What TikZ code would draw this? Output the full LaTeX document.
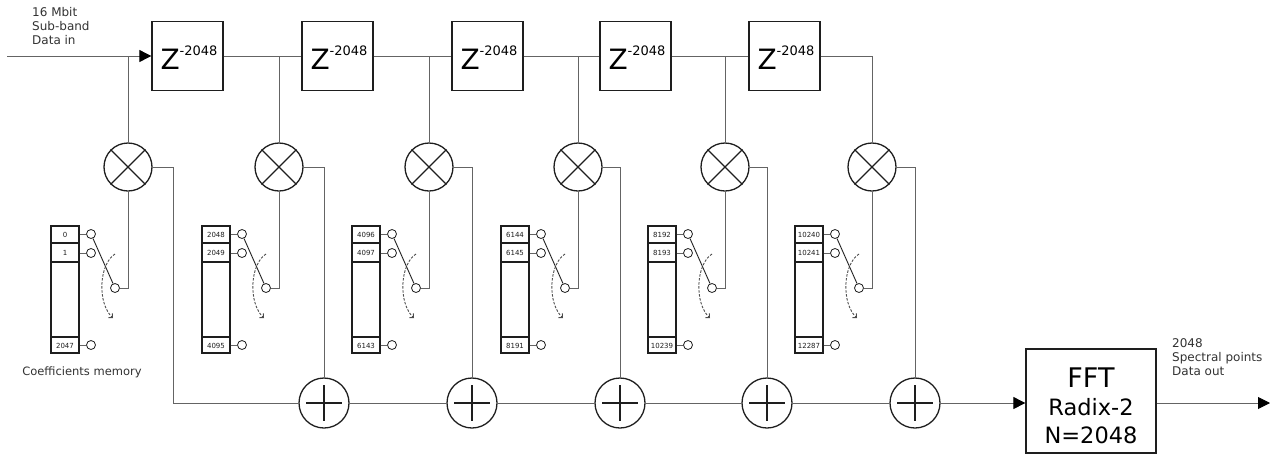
\documentclass[tikz,border=0pt]{standalone}
\usepackage{fontspec}
\setmainfont{DejaVu Sans}
\usetikzlibrary{arrows.meta,calc}
\definecolor{wirecol}{RGB}{100,100,100}
\definecolor{inkcol}{RGB}{30,30,30}
\definecolor{txtcol}{RGB}{50,50,50}
\begin{document}
\begin{tikzpicture}[x=1pt,y=-1pt,
  wire/.style={draw=wirecol, line width=0.9pt},
  blk/.style={draw=inkcol, line width=1.3pt},
  delaybox/.style={blk, rectangle, minimum width=71pt, minimum height=69pt, inner sep=0pt},
  multnode/.style={blk, circle, minimum size=48pt, inner sep=0pt},
  addnode/.style={blk, circle, minimum size=50pt, inner sep=0pt},
  memnode/.style={draw=inkcol, line width=1.2pt, rectangle, minimum width=28pt, minimum height=127pt, inner sep=0pt},
  termnode/.style={draw=inkcol, line width=0.8pt, circle, fill=white, minimum size=9pt, inner sep=0pt},
  celltext/.style={inner sep=0pt, font=\fontsize{7}{7}\selectfont, text=inkcol},
  smalltext/.style={inner sep=0pt, anchor=base west, font=\fontsize{12}{14}\selectfont, text=txtcol},
  arrowtip/.style={-{Triangle[length=12pt,width=12pt,color=black]}},
]
\useasboundingbox (0,0) rectangle (1275,456);

% delay boxes
\foreach \k/\x in {1/187.5,2/337.5,3/487.5,4/635.5,5/784.5}{
  \node[delaybox] (z\k) at (\x,56) {};
  \node[anchor=base, inner sep=0pt] at ($(z\k.center)+(1.5,13)$)
    {{\fontsize{28}{28}\selectfont Z}\raisebox{14pt}{\fontsize{13}{13}\selectfont -2048}};
}

% multipliers
\foreach \k/\t in {1/128,2/279,3/429,4/578,5/725,6/872}{
  \node[multnode] (m\k) at (\t,167) {};
  \draw[blk] (m\k.45) -- (m\k.225) (m\k.135) -- (m\k.315);
  \coordinate (j\k) at (\t,56);
}

% adders
\foreach \k/\x in {1/324,2/472,3/620,4/767,5/915}{
  \node[addnode] (a\k) at (\x,403) {};
  \draw[blk] ($(a\k.center)+(-18,0)$) -- ($(a\k.center)+(18,0)$)
             ($(a\k.center)+(0,-18)$) -- ($(a\k.center)+(0,18)$);
}

% FFT
\node[blk, rectangle, minimum width=130pt, minimum height=104pt, inner sep=0pt] (fft) at (1091,401) {};
\node[anchor=base, inner sep=0pt, font=\fontsize{27}{27}\selectfont] at (1091,387) {FFT};
\node[anchor=base, inner sep=0pt, font=\fontsize{22.5}{22.5}\selectfont] at (1091,415) {Radix-2};
\node[anchor=base, inner sep=0pt, font=\fontsize{22.5}{22.5}\selectfont] at (1091,443) {N=2048};

% coefficient memories and switches
\foreach \k/\t/\la/\lb/\lc in {1/128/0/1/2047, 2/279/2048/2049/4095, 3/429/4096/4097/6143,
    4/578/6144/6145/8191, 5/725/8192/8193/10239, 6/872/10240/10241/12287}{
  \node[memnode] (mem\k) at (\t-63,289.5) {};
  \draw[draw=inkcol, line width=1.2pt]
     (\t-77,243) -- (\t-49,243)
     (\t-77,262) -- (\t-49,262)
     (\t-77,337) -- (\t-49,337);
  \node[celltext] at (\t-63,234.5) {\la};
  \node[celltext] at (\t-63,253) {\lb};
  \node[celltext] at (\t-63,345.5) {\lc};
  \node[termnode] (ta\k) at (\t-37,234) {};
  \node[termnode] (tb\k) at (\t-37,253) {};
  \node[termnode] (tc\k) at (\t-37,345) {};
  \node[termnode] (c\k) at (\t-13,288) {};
  \draw[wire] (mem\k.east |- ta\k) -- (ta\k.west);
  \draw[wire] (mem\k.east |- tb\k) -- (tb\k.west);
  \draw[wire] (mem\k.east |- tc\k) -- (tc\k.west);
  \draw[draw=inkcol, line width=0.9pt] (ta\k) -- (c\k);
  \draw[wire] (c\k.east) -- (m\k.south |- c\k) -- (m\k.south);
  \draw[draw=black!70, line width=0.9pt, dash pattern=on 2.5pt off 1.5pt,
        -{Straight Barb[length=3pt,width=6pt]}]
     (\t-13,254) .. controls (\t-29,264) and (\t-31,303) .. (\t-15,318);
}

% signal chain
\coordinate (in0) at (7,56);
\draw[wire, arrowtip] (in0) -- (z1.west);
\foreach \p/\q in {1/2,2/3,3/4,4/5}{ \draw[wire] (z\p.east) -- (z\q.west); }
\foreach \k in {1,2,3,4,5}{ \draw[wire] (j\k) -- (m\k.north); }
\draw[wire] (z5.east) -| (m6.north);

% multiplier outputs to adders
\coordinate (s0) at (173,403);
\draw[wire] (m1.east) -| (s0) -- (a1.west);
\foreach \k/\p in {2/1,3/2,4/3,5/4,6/5}{ \draw[wire] (m\k.east) -| (a\p.north); }
\foreach \p/\q in {1/2,2/3,3/4,4/5}{ \draw[wire] (a\p.east) -- (a\q.west); }
\draw[wire, arrowtip] (a5.east) -- (fft.west |- a5);
\coordinate (out0) at (1270,403);
\draw[wire, arrowtip] (fft.east |- out0) -- (out0);

% labels
\node[smalltext] at (32,16) {16 Mbit};
\node[smalltext] at (32,30) {Sub-band};
\node[smalltext] at (32,44) {Data in};
\node[smalltext] at (1172,347) {2048};
\node[smalltext] at (1172,361) {Spectral points};
\node[smalltext] at (1172,375) {Data out};
\node[smalltext, anchor=base, font=\fontsize{11.5}{14}\selectfont] at (82,375) {Coefficients memory};
\end{tikzpicture}
\end{document}
